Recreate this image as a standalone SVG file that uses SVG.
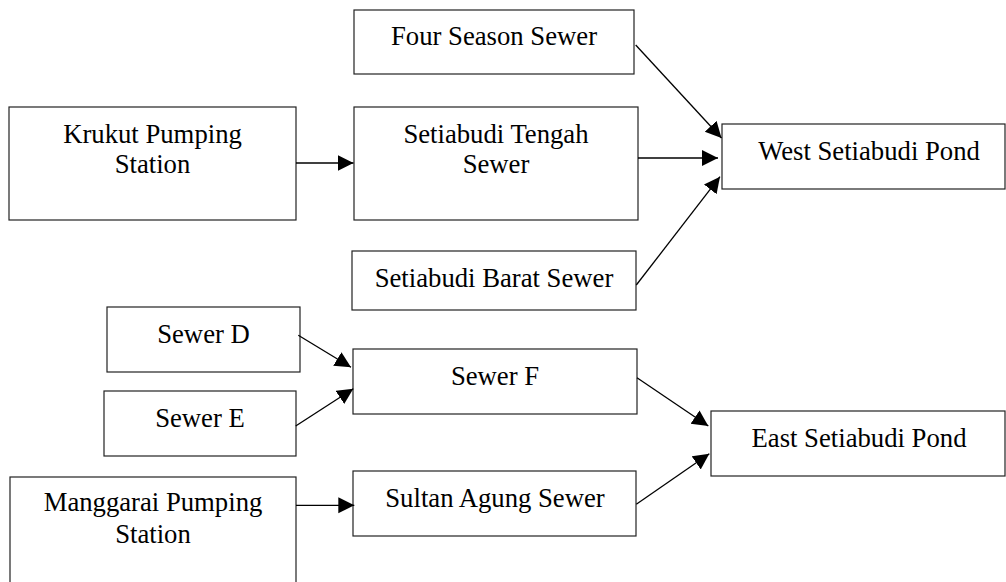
<svg xmlns="http://www.w3.org/2000/svg" width="1006" height="582" viewBox="0 0 1006 582">
<style>
.box{fill:#fff;stroke:#222;stroke-width:1.2}
.t{font-family:"Liberation Serif","Times New Roman",serif;font-size:26.7px;fill:#000;text-anchor:middle}
.c{stroke:#000;stroke-width:1.3;fill:none;marker-end:url(#ah)}
</style>
<defs>
<marker id="ah" markerWidth="18" markerHeight="17" refX="16" refY="8" orient="auto" markerUnits="userSpaceOnUse">
<path d="M0,0 L16,8 L0,16 Z" fill="#000"/>
</marker>
</defs>
<rect width="1006" height="582" fill="#fff"/>
<g id="four-season"><rect class="box" x="354" y="10" width="280" height="64"/><text class="t" x="494" y="45">Four Season Sewer</text></g>
<g id="krukut"><rect class="box" x="9" y="107" width="287" height="113"/><text class="t" x="152.5" y="142.7">Krukut Pumping</text><text class="t" x="152.5" y="172.7">Station</text></g>
<g id="tengah"><rect class="box" x="354" y="107" width="284" height="113"/><text class="t" x="496" y="142.7">Setiabudi Tengah</text><text class="t" x="496" y="172.7">Sewer</text></g>
<g id="barat"><rect class="box" x="352" y="251" width="284" height="59"/><text class="t" x="494" y="286.7">Setiabudi Barat Sewer</text></g>
<g id="west-pond"><rect class="box" x="722" y="124" width="283" height="65"/><text class="t" x="869" y="160">West Setiabudi Pond</text></g>
<g id="sewer-d"><rect class="box" x="107" y="307" width="193" height="65"/><text class="t" x="203.5" y="342.7">Sewer D</text></g>
<g id="sewer-e"><rect class="box" x="104" y="391" width="192" height="65"/><text class="t" x="200" y="426.7">Sewer E</text></g>
<g id="sewer-f"><rect class="box" x="353" y="349" width="284" height="65"/><text class="t" x="495" y="385">Sewer F</text></g>
<g id="manggarai"><rect class="box" x="10" y="477" width="286" height="113"/><text class="t" x="153" y="511">Manggarai Pumping</text><text class="t" x="153" y="542.7">Station</text></g>
<g id="sultan-agung"><rect class="box" x="353" y="471" width="283" height="65"/><text class="t" x="495" y="506.7">Sultan Agung Sewer</text></g>
<g id="east-pond"><rect class="box" x="711" y="411" width="294" height="65"/><text class="t" x="859" y="446.7">East Setiabudi Pond</text></g>
<g id="connectors">
<line class="c" x1="296" y1="163" x2="353.5" y2="163"/>
<line class="c" x1="635.7" y1="45" x2="721.5" y2="138"/>
<line class="c" x1="638" y1="158" x2="718" y2="158"/>
<line class="c" x1="636.3" y1="285" x2="720" y2="176.7"/>
<line class="c" x1="298.3" y1="335.3" x2="351" y2="367.3"/>
<line class="c" x1="295.7" y1="426" x2="353.3" y2="388.7"/>
<line class="c" x1="296" y1="505.3" x2="354.3" y2="505.3"/>
<line class="c" x1="637" y1="377.7" x2="708.3" y2="426"/>
<line class="c" x1="636.3" y1="504.3" x2="709.3" y2="453.7"/>
</g>
</svg>
